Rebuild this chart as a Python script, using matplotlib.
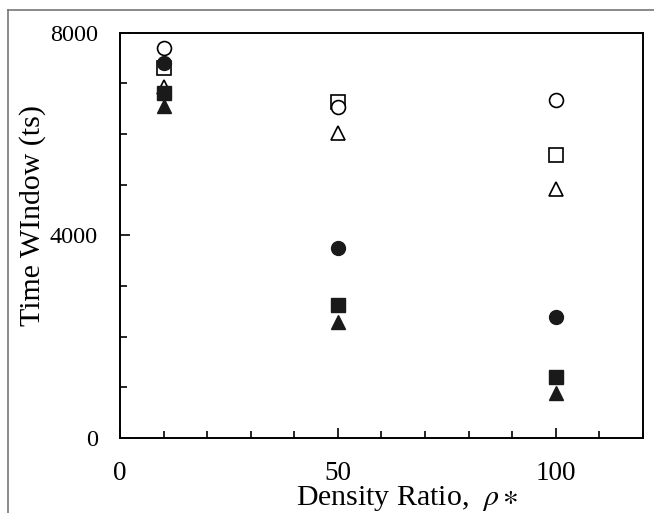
import matplotlib.pyplot as plt
from matplotlib.ticker import MultipleLocator
from matplotlib.lines import Line2D

plt.rcParams['font.family'] = ['Liberation Serif', 'DejaVu Serif']
plt.rcParams['mathtext.fontset'] = 'stix'

density = [10, 50, 100]
open_circle = [7700, 6530, 6680]
open_square = [7310, 6630, 5590]
open_triangle = [6930, 6030, 4920]
filled_circle = [7400, 3750, 2390]
filled_square = [6820, 2630, 1200]
filled_triangle = [6550, 2290, 890]

fig = plt.figure(figsize=(6.54, 5.13), dpi=100)
ax = fig.add_axes([0.1835, 0.146, 0.7995, 0.79])

# outer frame (top and left only, grey)
fig.add_artist(Line2D([8 / 654, 1.0], [1 - 10 / 513, 1 - 10 / 513], color='#777777', lw=1.2))
fig.add_artist(Line2D([8 / 654, 8 / 654], [0, 1 - 10 / 513], color='#777777', lw=1.2))

ax.plot(density, open_circle, 'o', ms=10, mfc='white', mec='black', mew=1.2, ls='none', zorder=3)
ax.plot(density, open_square, 's', ms=9.5, mfc='white', mec='black', mew=1.2, ls='none', zorder=2)
ax.plot(density, open_triangle, '^', ms=10.5, mfc='white', mec='black', mew=1.2, ls='none', zorder=2)
ax.plot(density, filled_circle, 'o', ms=10, color='#1a1a1a', ls='none', zorder=4)
ax.plot(density, filled_square, 's', ms=9.5, color='#1a1a1a', ls='none', zorder=4)
ax.plot(density, filled_triangle, '^', ms=10.5, color='#1a1a1a', ls='none', zorder=4)

ax.set_xlim(0, 120)
ax.set_ylim(0, 8000)
ax.xaxis.set_major_locator(MultipleLocator(50))
ax.xaxis.set_minor_locator(MultipleLocator(10))
ax.yaxis.set_major_locator(MultipleLocator(4000))
ax.yaxis.set_minor_locator(MultipleLocator(1000))
ax.tick_params(which='both', direction='in', width=1.2)
ax.tick_params(which='major', length=7)
ax.tick_params(which='minor', length=5)
ax.tick_params(axis='x', pad=16.5, labelsize=19.5)
ax.tick_params(axis='y', pad=16, labelsize=17.5)
for s in ax.spines.values():
    s.set_linewidth(1.4)

ax.set_xlabel(r'Density Ratio,  $\rho\ast$', fontsize=21.5)
ax.set_ylabel('Time WIndow (ts)', fontsize=21.5)
ax.xaxis.set_label_coords(0.55, -0.113)
ax.yaxis.set_label_coords(-0.142, 0.55)

fig.savefig('out.png', dpi=100)
